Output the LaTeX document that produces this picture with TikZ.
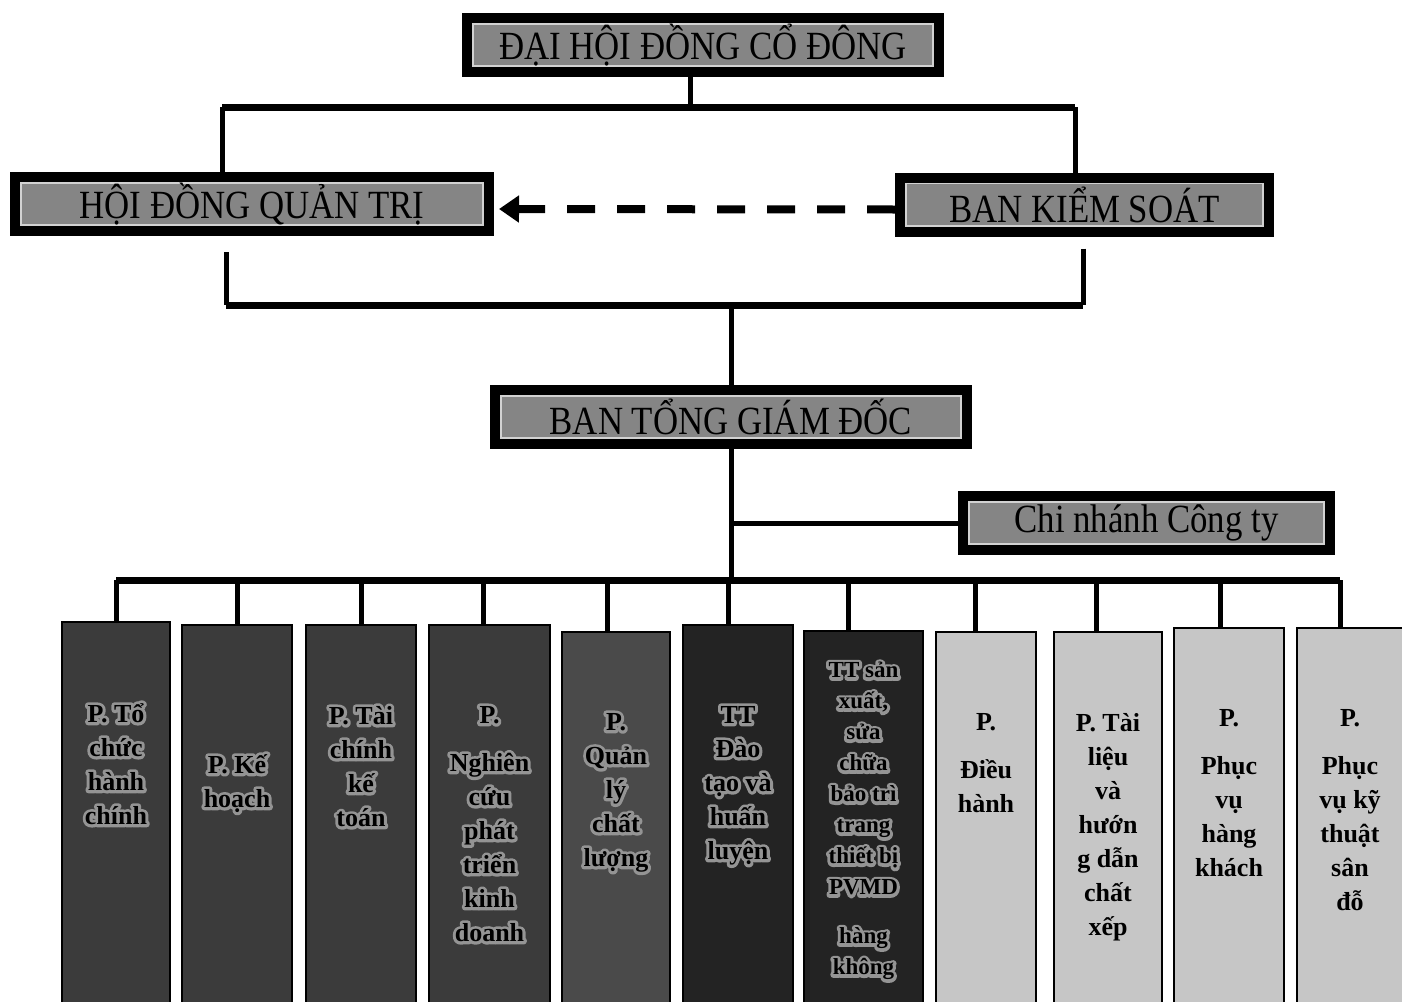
\documentclass[tikz,border=0pt]{standalone}
\usepackage{fontspec}
\setmainfont{Liberation Serif}
\newfontfamily\headfont{Liberation Serif}[FakeStretch=0.87]
\usetikzlibrary{arrows.meta}

\definecolor{headgray}{HTML}{858585}
\definecolor{rimgray}{HTML}{D2D2D2}
\definecolor{deptdark}{HTML}{3B3B3B}
\definecolor{deptmid}{HTML}{4A4A4A}
\definecolor{deptblack}{HTML}{232323}
\definecolor{deptlight}{HTML}{C6C6C6}

% light outline stroked round the letters, then the letters on top
\newcommand{\glow}[1]{\leavevmode\rlap{\special{pdf:literal direct 1 Tr 3 w 1 j 0.58 G}#1\special{pdf:literal direct 0 Tr 0 G}}#1}

\begin{document}
\begin{tikzpicture}[x=0.5pt,y=-0.5pt,
    head/.style={draw, line width=5pt, fill=rimgray, inner sep=0pt, minimum height=27pt,
        font=\headfont\fontsize{20}{24}\selectfont,
        path picture={\fill[headgray] ([shift={(3.3pt,-3.3pt)}]path picture bounding box.north west)
            rectangle ([shift={(-3.3pt,3.3pt)}]path picture bounding box.south east);}},
    dept/.style={draw, line width=1.2pt, anchor=north, minimum height=200pt, inner sep=0pt},
    lbl/.style={anchor=north, align=center, inner sep=0pt, font=\bfseries\fontsize{13}{17}\selectfont},
    link/.style={line width=2.5pt},
    bus/.style={line width=3.5pt},
    ctrl/.style={line width=4pt, dash pattern=on 14pt off 11pt, shorten >=2.5pt,
        -{Triangle[length=10pt,width=13pt]}}]

    \path[use as bounding box, clip] (0,0) rectangle (1402,1001);

    % top levels
    \node[head, minimum width=236pt] (dhcd) at (703,45) {ĐẠI HỘI ĐỒNG CỔ ĐÔNG};
    \node[head, minimum width=237pt] (hdqt) at (252,204) {HỘI ĐỒNG QUẢN TRỊ};
    \node[head, minimum width=184.5pt] (bks) at (1084.5,204.5) {BAN KIỂM SOÁT};
    \node[head, minimum width=236pt] (btgd) at (731,417) {BAN TỔNG GIÁM ĐỐC};
    \node[head, minimum width=183.5pt] (cnct) at (1146.5,523) {Chi nhánh Công ty};

    \coordinate (upL) at (222,107);
    \coordinate (upR) at (1075,107);
    \coordinate (dnL) at (226,305);
    \coordinate (dnR) at (1083,305);
    \coordinate (lowL) at (116,580);
    \coordinate (lowR) at (1340,580);

    \draw[link] ([xshift=-6.5pt]dhcd.south) -- ([xshift=-6.5pt]dhcd.south |- upL);
    \draw[bus] (upL) -- (upR);
    \draw[link] (upL) -- (upL |- hdqt.north);
    \draw[link] (upR) -- (upR |- bks.north);
    \draw[ctrl] ([yshift=-2.5pt]bks.west) -- ([yshift=-2.5pt]hdqt.east);
    \draw[link, shorten <=8pt] (dnL |- hdqt.south) -- (dnL);
    \draw[link, shorten <=6pt] (dnR |- bks.south) -- (dnR);
    \draw[bus] (dnL) -- (dnR);
    \draw[link] (btgd) -- (btgd |- dnL);
    \draw[link] (btgd) -- (btgd |- lowL);
    \draw[link] (cnct) -- (cnct -| btgd);
    \draw[bus] (lowL) -- (lowR);

    % departments
    \node[dept, fill=deptdark, minimum width=53.8pt,
        label={[lbl, yshift=-41pt]north:{\glow{P. Tổ}\\\glow{chức}\\\glow{hành}\\\glow{chính}}}] (ptc) at (116,621) {};
    \node[dept, fill=deptdark, minimum width=54.8pt,
        label={[lbl, yshift=-65pt]north:{\glow{P. Kế}\\\glow{hoạch}}}] (pkh) at (237,624) {};
    \node[dept, fill=deptdark, minimum width=54.8pt,
        label={[lbl, yshift=-41pt]north:{\glow{P. Tài}\\\glow{chính}\\\glow{kế}\\\glow{toán}}}] (ptckt) at (361,624) {};
    \node[dept, fill=deptdark, minimum width=60.3pt,
        label={[lbl, yshift=-41pt]north:{\glow{P.}\\[7pt]\glow{Nghiên}\\\glow{cứu}\\\glow{phát}\\\glow{triển}\\\glow{kinh}\\\glow{doanh}}}] (pnc) at (489.5,624) {};
    \node[dept, fill=deptmid, minimum width=53.8pt,
        label={[lbl, yshift=-41pt]north:{\glow{P.}\\\glow{Quản}\\\glow{lý}\\\glow{chất}\\\glow{lượng}}}] (pql) at (616,631) {};
    \node[dept, fill=deptblack, minimum width=54.8pt,
        label={[lbl, yshift=-41pt]north:{\glow{TT}\\\glow{Đào}\\\glow{tạo và}\\\glow{huấn}\\\glow{luyện}}}] (ttdt) at (738,624) {};
    \node[dept, fill=deptblack, minimum width=59.3pt,
        label={[lbl, yshift=-16pt, font=\bfseries\fontsize{11.5}{15.5}\selectfont]north:{\glow{TT sản}\\\glow{xuất,}\\\glow{sửa}\\\glow{chữa}\\\glow{bảo trì}\\\glow{trang}\\\glow{thiết bị}\\\glow{PVMD}\\[9pt]\glow{hàng}\\\glow{không}}}] (ttsc) at (863.5,630) {};
    \node[dept, fill=deptlight, minimum width=49.8pt,
        label={[lbl, yshift=-41pt]north:{P.\\[7pt]Điều\\hành}}] (pdh) at (986,631) {};
    \node[dept, fill=deptlight, minimum width=53.8pt,
        label={[lbl, yshift=-41pt]north:{P. Tài\\liệu\\và\\hướn\\g dẫn\\chất\\xếp}}] (ptl) at (1108,631) {};
    \node[dept, fill=deptlight, minimum width=54.8pt,
        label={[lbl, yshift=-41pt]north:{P.\\[7pt]Phục\\vụ\\hàng\\khách}}] (phk) at (1229,627) {};
    \node[dept, fill=deptlight, minimum width=52.8pt,
        label={[lbl, yshift=-41pt]north:{P.\\[7pt]Phục\\vụ kỹ\\thuật\\sân\\đỗ}}] (pkt) at (1350,627) {};

    \draw[link] (ptc |- lowL) -- (ptc);
    \draw[link] (pkh |- lowL) -- (pkh);
    \draw[link] (ptckt |- lowL) -- (ptckt);
    \draw[link] ([xshift=-3pt]pnc.north |- lowL) -- ([xshift=-3pt]pnc.north);
    \draw[link] ([xshift=-4.5pt]pql.north |- lowL) -- ([xshift=-4.5pt]pql.north);
    \draw[link] ([xshift=-5pt]ttdt.north |- lowL) -- ([xshift=-5pt]ttdt.north);
    \draw[link] ([xshift=-7.5pt]ttsc.north |- lowL) -- ([xshift=-7.5pt]ttsc.north);
    \draw[link] ([xshift=-5.5pt]pdh.north |- lowL) -- ([xshift=-5.5pt]pdh.north);
    \draw[link] ([xshift=-6pt]ptl.north |- lowL) -- ([xshift=-6pt]ptl.north);
    \draw[link] ([xshift=-4.5pt]phk.north |- lowL) -- ([xshift=-4.5pt]phk.north);
    \draw[link] ([xshift=-5pt]pkt.north |- lowL) -- ([xshift=-5pt]pkt.north);
\end{tikzpicture}
\end{document}
